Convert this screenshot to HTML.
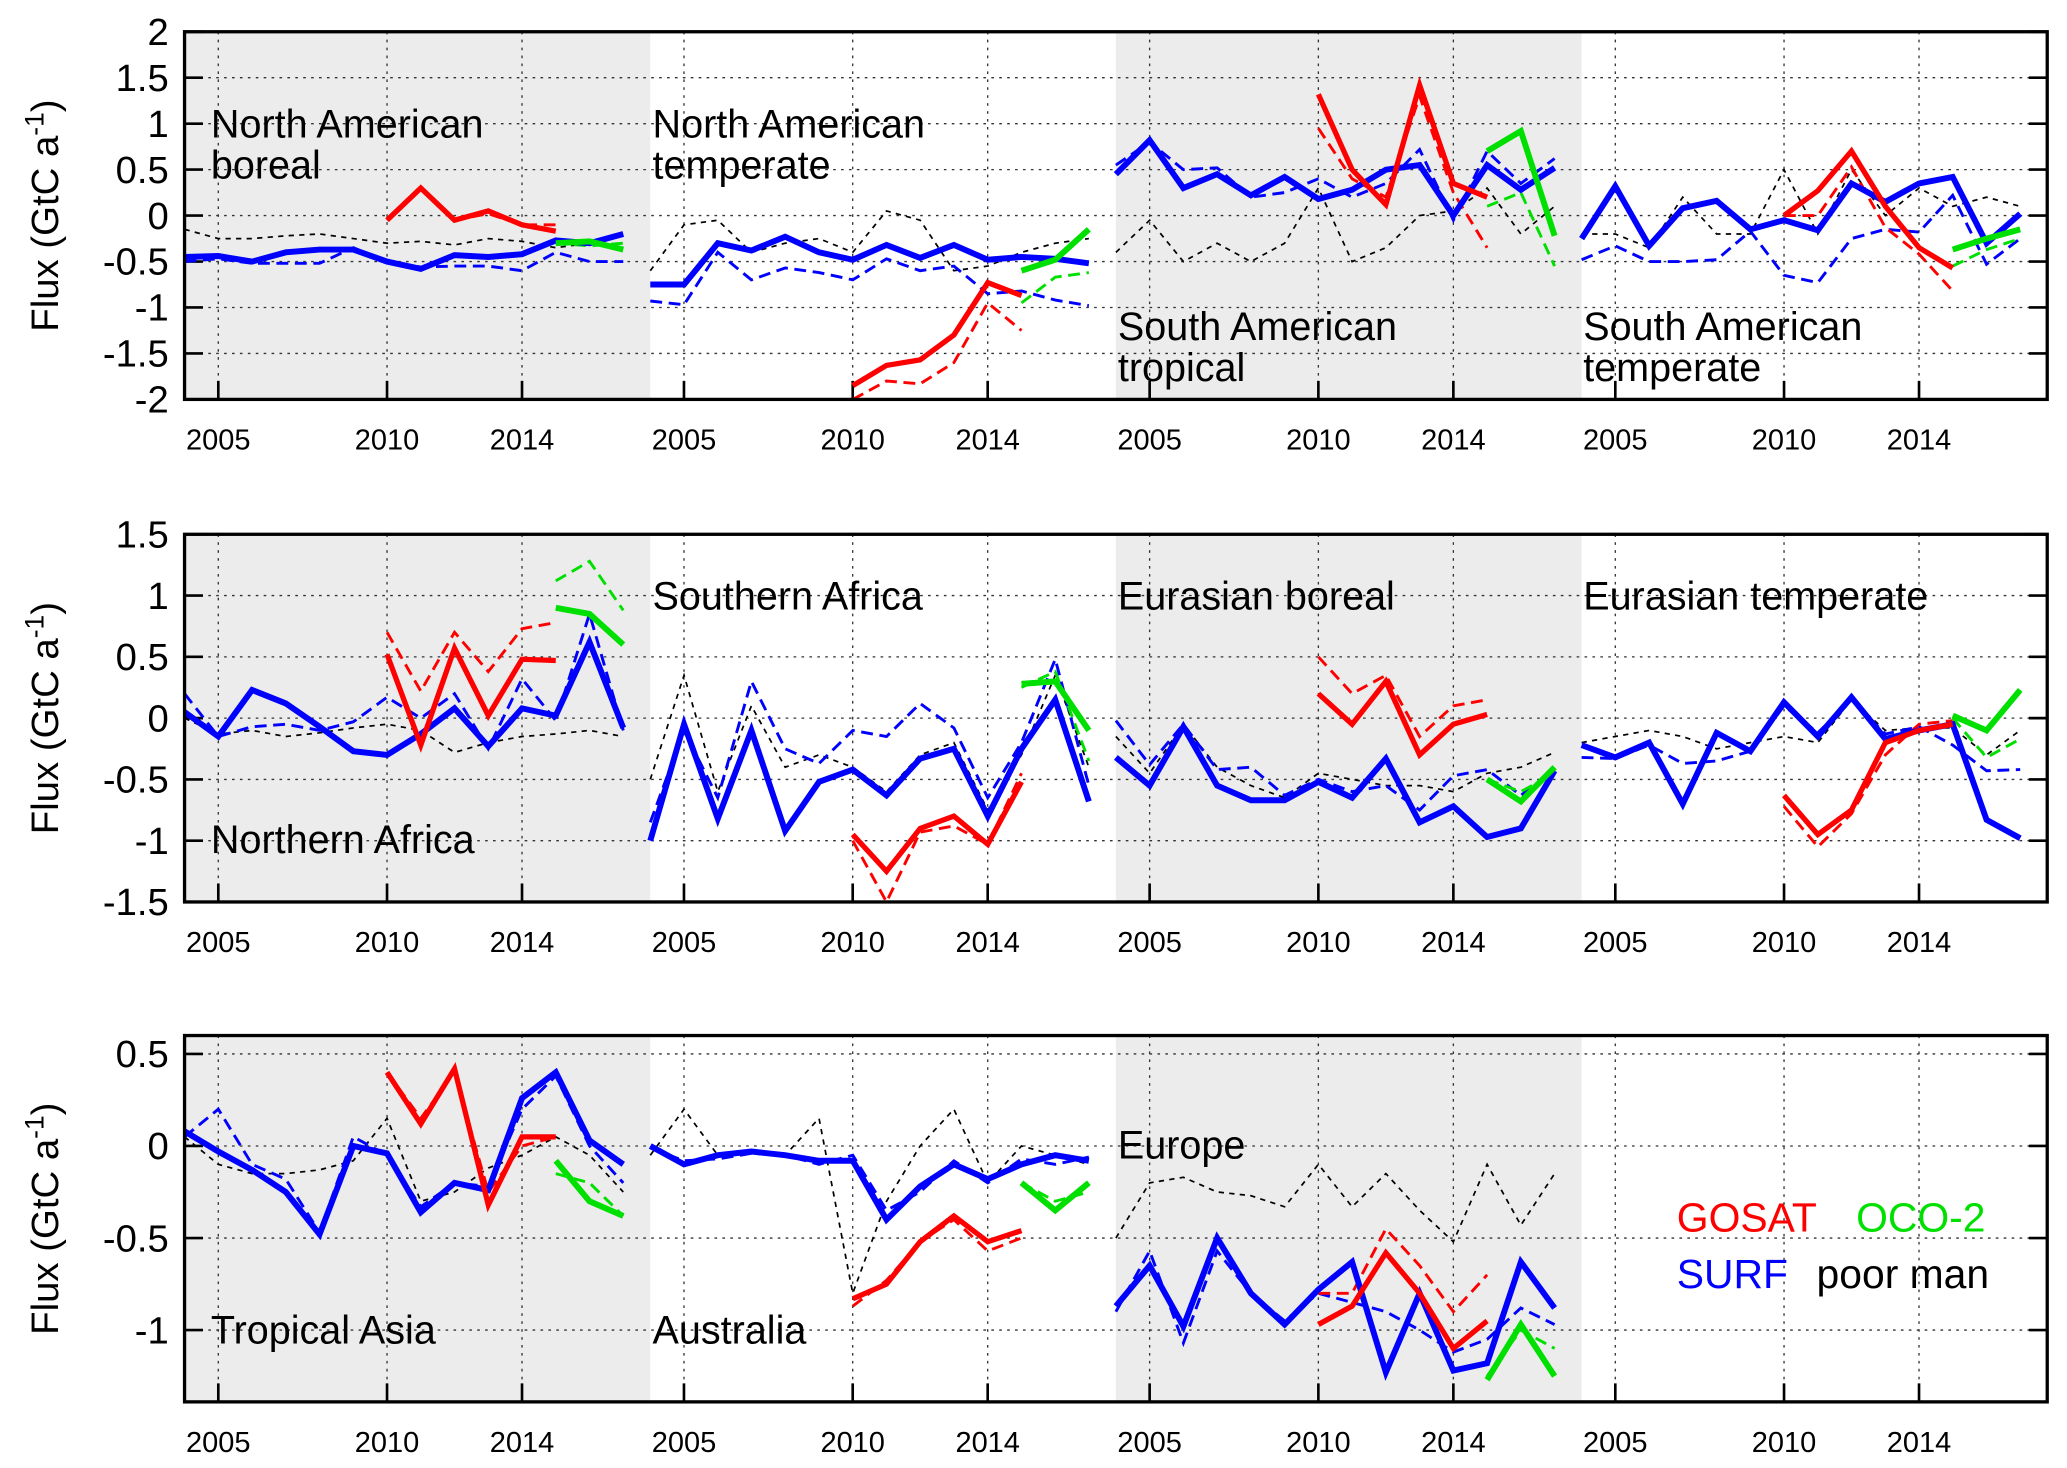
<!DOCTYPE html>
<html><head><meta charset="utf-8"><style>
html,body{margin:0;padding:0;background:#fff;}
svg{display:block;}
text{font-family:"Liberation Sans",Arial,sans-serif;}
.ttl{font-family:"Liberation Sans",sans-serif;font-size:30px;}
</style></head><body>
<svg id="chart" width="2067" height="1468" viewBox="0 0 1568 1110" preserveAspectRatio="none" xmlns="http://www.w3.org/2000/svg"></svg>
<script>
const years = [2004,2005,2006,2007,2008,2009,2010,2011,2012,2013,2014,2015,2016,2017];
const gosatYears = [2010,2011,2012,2013,2014,2015];
const ocoYears = [2015,2016,2017];
const regionNames = ["North American boreal","North American temperate","South American tropical","South American temperate","Northern Africa","Southern Africa","Eurasian boreal","Eurasian temperate","Tropical Asia","Australia","Europe"];
const surfSolid = [
[-0.45,-0.44,-0.5,-0.4,-0.37,-0.37,-0.5,-0.58,-0.43,-0.45,-0.42,-0.27,-0.3,-0.2],
[-0.75,-0.75,-0.3,-0.38,-0.23,-0.4,-0.48,-0.32,-0.46,-0.32,-0.48,-0.45,-0.47,-0.52],
[0.45,0.82,0.3,0.45,0.22,0.42,0.18,0.28,0.5,0.55,0.0,0.55,0.28,0.52],
[-0.25,0.32,-0.33,0.08,0.16,-0.15,-0.05,-0.16,0.35,0.15,0.35,0.42,-0.3,0.02],
[0.05,-0.15,0.23,0.12,-0.07,-0.27,-0.3,-0.13,0.08,-0.23,0.08,0.02,0.62,-0.08],
[-1.0,-0.05,-0.82,-0.1,-0.92,-0.52,-0.42,-0.63,-0.33,-0.25,-0.8,-0.25,0.15,-0.68],
[-0.32,-0.55,-0.07,-0.55,-0.67,-0.67,-0.52,-0.65,-0.33,-0.85,-0.72,-0.97,-0.9,-0.43],
[-0.22,-0.32,-0.2,-0.7,-0.12,-0.27,0.13,-0.15,0.17,-0.17,-0.1,-0.05,-0.83,-0.98],
[0.08,-0.03,-0.13,-0.25,-0.48,0.0,-0.04,-0.36,-0.2,-0.24,0.26,0.4,0.03,-0.1],
[0.0,-0.1,-0.05,-0.03,-0.05,-0.08,-0.08,-0.4,-0.22,-0.1,-0.18,-0.1,-0.05,-0.08],
[-0.87,-0.65,-0.98,-0.5,-0.8,-0.97,-0.78,-0.63,-1.23,-0.8,-1.22,-1.18,-0.63,-0.88]];
const surfDashed = [
[-0.5,-0.47,-0.52,-0.52,-0.52,-0.35,-0.5,-0.56,-0.55,-0.55,-0.6,-0.4,-0.5,-0.5],
[-0.93,-0.97,-0.4,-0.7,-0.57,-0.62,-0.7,-0.47,-0.6,-0.55,-0.85,-0.82,-0.92,-0.98],
[0.55,0.8,0.5,0.52,0.2,0.25,0.4,0.2,0.35,0.72,-0.05,0.7,0.35,0.62],
[-0.48,-0.33,-0.5,-0.5,-0.48,-0.17,-0.65,-0.73,-0.25,-0.15,-0.18,0.22,-0.53,-0.25],
[0.2,-0.15,-0.07,-0.05,-0.1,-0.03,0.17,0.0,0.2,-0.25,0.32,-0.02,0.85,-0.1],
[-0.85,-0.1,-0.65,0.3,-0.25,-0.37,-0.1,-0.15,0.12,-0.08,-0.65,-0.2,0.48,-0.55],
[-0.02,-0.38,-0.05,-0.42,-0.4,-0.63,-0.5,-0.6,-0.55,-0.75,-0.47,-0.42,-0.63,-0.42],
[-0.32,-0.33,-0.22,-0.37,-0.35,-0.27,0.1,-0.12,0.15,-0.13,-0.07,-0.22,-0.43,-0.42],
[0.05,0.2,-0.1,-0.18,-0.47,0.05,-0.05,-0.33,-0.2,-0.22,0.2,0.38,0.0,-0.2],
[-0.01,-0.08,-0.07,-0.04,-0.05,-0.1,-0.05,-0.35,-0.25,-0.08,-0.2,-0.07,-0.1,-0.06],
[-0.9,-0.57,-1.07,-0.57,-0.8,-0.95,-0.8,-0.85,-0.9,-1.0,-1.12,-1.05,-0.88,-0.97]];
const poorMan = [
[-0.15,-0.25,-0.25,-0.22,-0.2,-0.25,-0.3,-0.28,-0.32,-0.25,-0.28,-0.35,-0.3,-0.35],
[-0.6,-0.1,-0.05,-0.4,-0.3,-0.25,-0.4,0.05,-0.05,-0.6,-0.55,-0.4,-0.3,-0.25],
[-0.4,-0.05,-0.5,-0.3,-0.5,-0.3,0.3,-0.5,-0.35,0.0,0.05,0.3,-0.2,0.1],
[-0.2,-0.2,-0.35,0.2,-0.2,-0.2,0.5,-0.2,0.5,0.0,0.3,0.1,0.2,0.1],
[0.0,-0.13,-0.1,-0.15,-0.12,-0.08,-0.05,-0.1,-0.28,-0.2,-0.15,-0.13,-0.1,-0.15],
[-0.5,0.35,-0.6,0.1,-0.4,-0.3,-0.4,-0.6,-0.3,-0.2,-0.75,-0.3,0.35,-0.4],
[-0.15,-0.45,-0.05,-0.4,-0.55,-0.65,-0.45,-0.5,-0.55,-0.55,-0.6,-0.45,-0.4,-0.28],
[-0.2,-0.15,-0.1,-0.15,-0.25,-0.2,-0.15,-0.2,0.15,-0.1,-0.08,-0.08,-0.3,-0.1],
[0.05,-0.1,-0.15,-0.15,-0.13,-0.08,0.15,-0.3,-0.25,-0.12,-0.05,0.05,-0.05,-0.25],
[-0.05,0.2,-0.05,-0.03,-0.05,0.15,-0.8,-0.3,0.0,0.2,-0.2,0.0,-0.05,-0.1],
[-0.5,-0.2,-0.17,-0.25,-0.27,-0.33,-0.1,-0.33,-0.15,-0.35,-0.52,-0.1,-0.43,-0.15]];
const gosatSolid = [
[-0.05,0.3,-0.05,0.05,-0.1,-0.17],[-1.85,-1.63,-1.57,-1.3,-0.73,-0.87],[1.32,0.5,0.12,1.42,0.35,0.2],
[0.0,0.27,0.7,0.1,-0.35,-0.57],[0.52,-0.22,0.57,0.02,0.48,0.47],[-0.95,-1.25,-0.9,-0.8,-1.03,-0.52],
[0.2,-0.05,0.3,-0.3,-0.05,0.03],[-0.63,-0.95,-0.75,-0.2,-0.1,-0.05],[0.4,0.12,0.42,-0.32,0.05,0.05],
[-0.83,-0.75,-0.52,-0.38,-0.52,-0.46],[-0.97,-0.87,-0.58,-0.8,-1.1,-0.95]];
const gosatDashed = [
[-0.05,0.3,-0.05,0.02,-0.1,-0.1],[-2.0,-1.8,-1.83,-1.6,-0.95,-1.25],[0.95,0.4,0.2,1.3,0.25,-0.35],
[0.0,0.0,0.53,-0.13,-0.42,-0.82],[0.7,0.22,0.7,0.38,0.73,0.78],[-1.0,-1.5,-0.93,-0.88,-1.03,-0.45],
[0.5,0.2,0.35,-0.15,0.1,0.15],[-0.72,-1.05,-0.78,-0.3,-0.05,-0.02],[0.4,0.15,0.4,-0.25,0.0,0.05],
[-0.87,-0.73,-0.52,-0.4,-0.57,-0.5],[-0.8,-0.8,-0.45,-0.65,-0.9,-0.7]];
const ocoSolid = [
[-0.3,-0.28,-0.37],[-0.6,-0.48,-0.15],[0.7,0.92,-0.22],[-0.37,-0.25,-0.15],[0.9,0.85,0.6],[0.28,0.3,-0.1],
[-0.5,-0.68,-0.4],[0.02,-0.1,0.23],[-0.08,-0.3,-0.38],[-0.2,-0.35,-0.2],[-1.27,-0.97,-1.25]];
const ocoDashed = [
[-0.3,-0.33,-0.3],[-0.95,-0.67,-0.62],[0.1,0.25,-0.55],[-0.55,-0.37,-0.25],[1.12,1.28,0.88],[0.25,0.38,-0.35],
[-0.5,-0.6,-0.45],[0.0,-0.32,-0.17],[-0.15,-0.2,-0.38],[-0.2,-0.3,-0.25],[-1.25,-1.0,-1.1]];
const rowYTicks = [[2,1.5,1,0.5,0,-0.5,-1,-1.5,-2],[1.5,1,0.5,0,-0.5,-1,-1.5],[0.5,0,-0.5,-1]];
const rowYRange = [[-2,2],[-1.5,1.5],[-1.39,0.6]];
const xTickYears = [2005,2010,2014];

const svg = document.getElementById('chart');
const NS = 'http://www.w3.org/2000/svg';
function el(tag, attrs, parent){const e=document.createElementNS(NS,tag);for(const k in attrs)e.setAttribute(k,attrs[k]);(parent||svg).appendChild(e);return e;}
const rowTop=[24,404,783], rowBot=[302,682,1060];
const boxL=140, boxR=1553, panelW=(boxR-boxL)/4, pxYear=25.6;
function xs(p,yr){return boxL+p*panelW+(yr-2004)*pxYear;}
function ys(r,v){const [a,b]=rowYRange[r];return rowBot[r]-(v-a)/(b-a)*(rowBot[r]-rowTop[r]);}

for(let r=0;r<3;r++){
  const T=rowTop[r],B=rowBot[r];
  for(let p=0;p<4;p++){
    if(p%2===0 && !(r===2&&p===3)){
      const s=el('rect',{x:boxL+p*panelW,y:T,width:panelW,height:B-T,fill:'#ececec'});
      
      
    }
  }
  rowYTicks[r].forEach(v=>{
    const y=ys(r,v);
    if(y>T+2&&y<B-2){const g=el('line',{x1:boxL,x2:boxR,y1:y,y2:y,stroke:'#333','stroke-width':1,'stroke-dasharray':'2,4'});
      }
    el('line',{x1:boxL,x2:boxL+14,y1:y,y2:y,stroke:'#000','stroke-width':2});
    el('line',{x1:boxR-14,x2:boxR,y1:y,y2:y,stroke:'#000','stroke-width':2});
    const t=el('text',{x:boxL-12,y:y+10,'text-anchor':'end','font-size':29});
    t.textContent=String(v);
    
  });
  for(let p=0;p<4;p++){
    xTickYears.forEach(yr=>{
      const x=xs(p,yr);
      const g=el('line',{x1:x,x2:x,y1:T,y2:B,stroke:'#333','stroke-width':1,'stroke-dasharray':'2,4'});
      
      el('line',{x1:x,x2:x,y1:B-14,y2:B,stroke:'#000','stroke-width':2});
      const t=el('text',{x:x,y:B+38,'text-anchor':'middle','font-size':22});
      t.textContent=String(yr);
      
    });
  }
  const yl=el('text',{transform:`translate(44,${(T+B)/2}) rotate(-90)`,'text-anchor':'middle','font-size':29});
  
  yl.innerHTML='Flux (GtC a<tspan dy="-11" font-size="20">-1</tspan><tspan dy="11">)</tspan>';
}

function series(r,p,xv,vals,color,w,dash,name){
  const pts=vals.map((v,i)=>xs(p,xv[i]).toFixed(1)+','+ys(r,v).toFixed(1)).join(' ');
  const a={points:pts,fill:'none',stroke:color,'stroke-width':w,'stroke-linejoin':'miter'};
  if(dash)a['stroke-dasharray']=dash;
  const l=el('polyline',a);
  
  
}
const clip=el('clipPath',{id:'cl'});
for(let r=0;r<3;r++) el('rect',{x:boxL,y:rowTop[r],width:boxR-boxL,height:rowBot[r]-rowTop[r]},clip);
const grp=el('g',{'clip-path':'url(#cl)'});
for(let i=0;i<11;i++){
  const r=Math.floor(i/4), p=i%4;
  const add=(xv,vals,c,w,d,n)=>{series(r,p,xv,vals,c,w,d,n);grp.appendChild(svg.lastChild);};
  add(years,poorMan[i],'#000',1.3,'4,4','poor-man-line');
  add(years,surfDashed[i],'#0000ff',2.2,'9,5','surf-dashed-line');
  add(gosatYears,gosatDashed[i],'#ff0000',2.2,'9,5','gosat-dashed-line');
  add(ocoYears,ocoDashed[i],'#00e000',2.2,'9,5','oco2-dashed-line');
  add(years,surfSolid[i],'#0000ff',4.5,null,'surf-line');
  add(gosatYears,gosatSolid[i],'#ff0000',4,null,'gosat-line');
  add(ocoYears,ocoSolid[i],'#00e000',4.5,null,'oco2-line');
}
for(let r=0;r<3;r++){
  const b=el('rect',{x:boxL,y:rowTop[r],width:boxR-boxL,height:rowBot[r]-rowTop[r],fill:'none',stroke:'#000','stroke-width':2.5});
  
}
const titles=[
 [160,104,'North American'],[160,135,'boreal'],[495,104,'North American'],[495,135,'temperate'],
 [848,257,'South American'],[848,288,'tropical'],[1201,257,'South American'],[1201,288,'temperate'],
 [160,645,'Northern Africa'],[495,461,'Southern Africa'],[848,461,'Eurasian boreal'],[1201,461,'Eurasian temperate'],
 [160,1016,'Tropical Asia'],[495,1016,'Australia'],[848,876,'Europe']];
titles.forEach(t=>{
  const e=el('text',{x:t[0],y:t[1],class:'ttl'});
  e.textContent=t[2];
  
  
});
const leg=[[1272,931,'GOSAT','#ff0000'],[1408,931,'OCO-2','#00e000'],[1272,974,'SURF','#0000ff'],[1378,974,'poor man','#000']];
leg.forEach(l=>{
  const e=el('text',{x:l[0],y:l[1],'font-size':31,fill:l[3]});
  e.textContent=l[2];
  
  
});
</script>
</body></html>
